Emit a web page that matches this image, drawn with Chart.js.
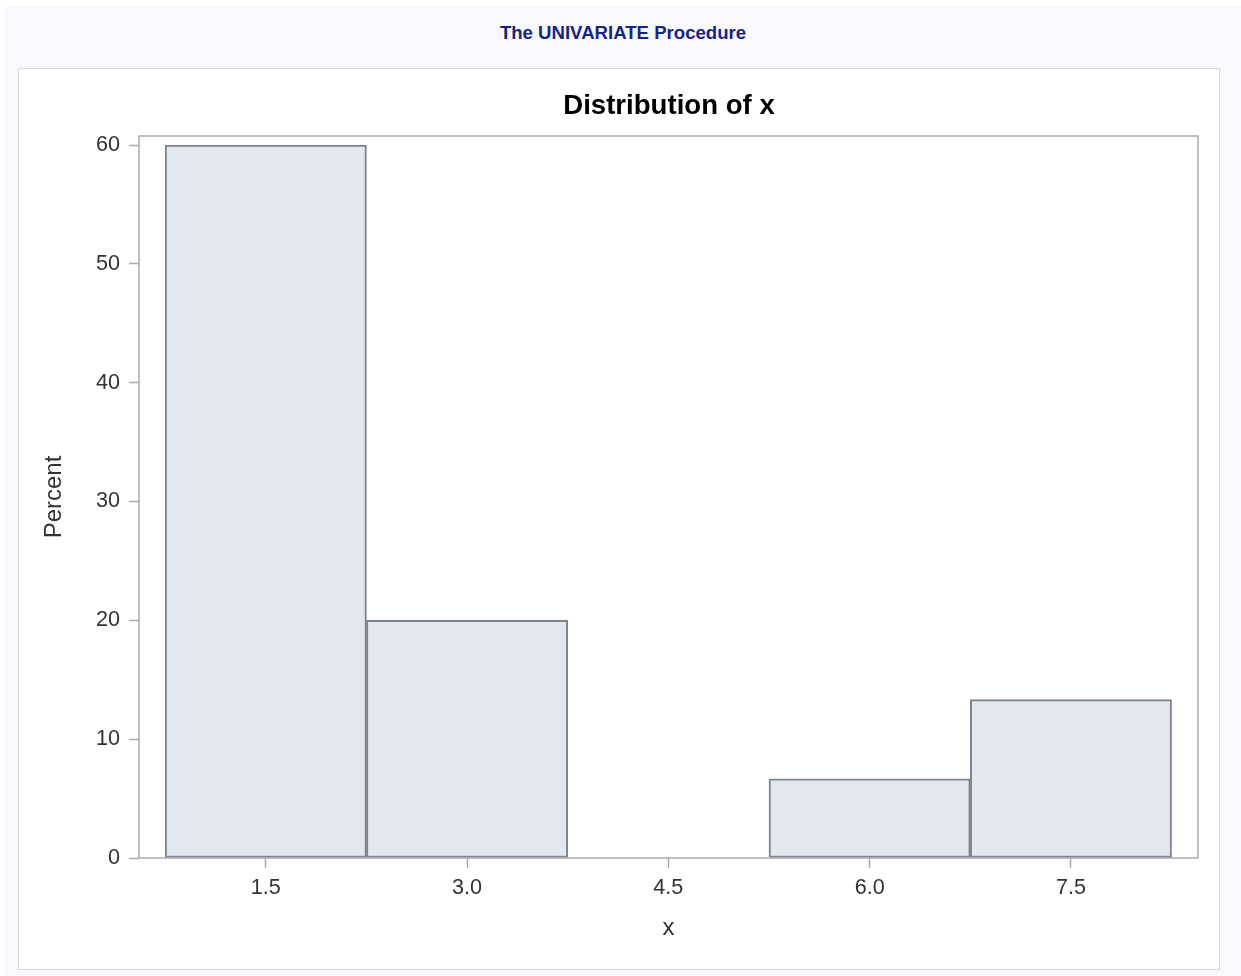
<!DOCTYPE html>
<html>
<head>
<meta charset="utf-8">
<title>The UNIVARIATE Procedure</title>
<script src="https://cdn.jsdelivr.net/npm/chart.js@4/dist/chart.umd.min.js"></script>
<style>
  html, body { margin: 0; padding: 0; background: #ffffff; }
  body { width: 1241px; height: 976px; position: relative; overflow: hidden;
         font-family: 'Liberation Sans', Arial, sans-serif; }
  #page { position: absolute; left: 4px; top: 7px; right: 0; bottom: 0; background: #f8f9fd; }
  #proc { position: absolute; left: 0; width: 1246px; top: 22px; line-height: 22px;
          text-align: center; font-weight: bold; font-size: 18.6px; color: #172483; }
  #panel { position: absolute; left: 18px; top: 68px; width: 1200px; height: 900px;
           border: 1px solid #d6d7da; background: #ffffff; }
  #title { position: absolute; left: 19px; width: 1300px; top: 89px; line-height: 32px;
           text-align: center; font-weight: bold; font-size: 27.6px; color: #000000; }
  #chart { position: absolute; left: 19px; top: 69px; }
</style>
</head>
<body>
<div id="page"></div>
<div id="proc">The UNIVARIATE Procedure</div>
<div id="panel"></div>
<canvas id="chart" width="1200" height="900"></canvas>
<div id="title">Distribution of x</div>
<script>
// Histogram bins: midpoints and percent of observations in each bin
const binMidpoints = [1.5, 3.0, 4.5, 6.0, 7.5];
const percentValues = [60, 20, 0, 6.667, 13.333];

// Axis ticks
const xTickValues = [1.5, 3.0, 4.5, 6.0, 7.5];
const xTickLabels = ['1.5', '3.0', '4.5', '6.0', '7.5'];
const yTickValues = [0, 10, 20, 30, 40, 50, 60];
const yTickLabels = ['0', '10', '20', '30', '40', '50', '60'];

const FONT = "'Liberation Sans', Arial, sans-serif";
const textColor = '#333333';
const lineGray = '#a7abb0';

// Box drawn around the whole plot area
const plotFrame = {
  id: 'plotFrame',
  afterDatasetsDraw(chart) {
    const { ctx, chartArea: a } = chart;
    ctx.save();
    ctx.strokeStyle = lineGray;
    ctx.lineWidth = 1.5;
    ctx.strokeRect(a.left, a.top, a.right - a.left, a.bottom - a.top);
    ctx.restore();
  }
};

new Chart(document.getElementById('chart'), {
  type: 'bar',
  data: {
    datasets: [{
      label: 'Percent',
      data: binMidpoints.map((m, i) => ({ x: m, y: percentValues[i] })),
      backgroundColor: '#e3e7f0',
      borderColor: '#80848a',
      borderWidth: 2,
      borderSkipped: false,
      barPercentage: 1,
      categoryPercentage: 1
    }]
  },
  options: {
    responsive: false,
    devicePixelRatio: 1,
    animation: false,
    layout: { padding: { top: 67, right: 21, bottom: 0, left: 0 } },
    plugins: {
      legend: { display: false },
      tooltip: { enabled: false },
      title: { display: false }
    },
    scales: {
      x: {
        type: 'linear',
        position: 'bottom',
        offset: false,
        min: 0.555,
        max: 8.447,
        afterBuildTicks(scale) { scale.ticks = xTickValues.map(v => ({ value: v })); },
        afterFit(scale) { scale.height = 111; },
        border: { display: false },
        grid: { offset: false, drawOnChartArea: false, drawTicks: true, tickLength: 10,
                tickColor: lineGray, tickWidth: 1.5, color: lineGray },
        ticks: {
          padding: 7, maxRotation: 0, autoSkip: false, color: textColor,
          font: { family: FONT, size: 21.6 },
          callback: (v, i) => xTickLabels[i]
        },
        title: {
          display: true, text: 'x', color: textColor,
          font: { family: FONT, size: 24 },
          padding: { top: 0, bottom: 26 }
        }
      },
      y: {
        type: 'linear',
        position: 'left',
        min: 0,
        max: 60.76,
        afterBuildTicks(scale) { scale.ticks = yTickValues.map(v => ({ value: v })); },
        afterFit(scale) { scale.width = 120; },
        border: { display: false },
        grid: { drawOnChartArea: false, drawTicks: true, tickLength: 10,
                tickColor: lineGray, tickWidth: 1.5, color: lineGray },
        ticks: {
          padding: 9, autoSkip: false, color: textColor,
          font: { family: FONT, size: 21.6 },
          callback: (v, i) => yTickLabels[i]
        },
        title: {
          display: true, text: 'Percent', color: textColor,
          font: { family: FONT, size: 24 },
          padding: { top: 21, bottom: 0 }
        }
      }
    }
  },
  plugins: [plotFrame]
});
</script>
</body>
</html>
